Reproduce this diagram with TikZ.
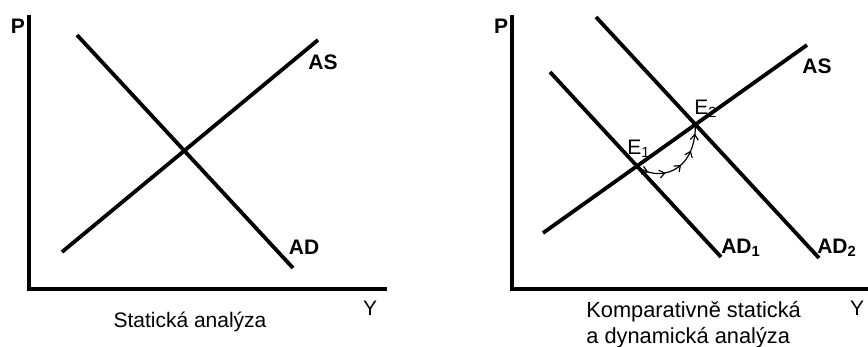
\documentclass[tikz,border=0pt]{standalone}
\usepackage{fontspec}
\setmainfont{Liberation Sans}
\usetikzlibrary{arrows.meta,intersections,decorations.markings}
\tikzset{
  axis/.style={line width=1.7pt, line join=miter},
  sched/.style={line width=1.9pt},
  lbl/.style={inner sep=0pt, font=\fontsize{10.5pt}{12.5pt}\selectfont},
  blbl/.style={inner sep=0pt, font=\bfseries\fontsize{10.5pt}{12.5pt}\selectfont},
  capt/.style={inner sep=0pt, font=\fontsize{10.9pt}{13pt}\selectfont},
  adjarr/.style={line width=0.6pt, postaction={decorate},
    decoration={markings, mark=between positions 0.14 and 0.95 step 0.19
      with {\arrow{Straight Barb[length=2.6pt, width=4pt]}}}},
}

\begin{document}
\begin{tikzpicture}[x=0.5pt, y=-0.5pt]
  \useasboundingbox (0,0) rectangle (868,347);
  % static analysis
  \coordinate (tL) at (29,15);
  \coordinate (oL) at (29,289);
  \coordinate (xL) at (387,289);
  \draw[axis] (tL) -- (oL) -- (xL);
  \coordinate (adLa) at (77,35);
  \coordinate (adLb) at (293,268);
  \coordinate (asLa) at (62,252);
  \coordinate (asLb) at (318,40);
  \draw[sched] (adLa) -- (adLb);
  \draw[sched] (asLa) -- (asLb);
  \node[blbl] (pL) at (18,26) {P};
  \node[blbl] (asL) at (323,62) {AS};
  \node[blbl] (adL) at (304,247) {AD};
  \node[lbl] (yL) at (370,308) {Y};
  \node[lbl, anchor=base] (capL) at (190,328) {Statická analýza};
  % comparative and dynamic analysis
  \coordinate (tR) at (512,15);
  \coordinate (oR) at (512,289);
  \coordinate (xR) at (868,289);
  \draw[axis] (tR) -- (oR) -- (xR);
  \coordinate (asRa) at (543,233);
  \coordinate (asRb) at (807,45);
  \coordinate (adOa) at (550,72);
  \coordinate (adOb) at (721,257);
  \coordinate (adTa) at (596,17);
  \coordinate (adTb) at (819,258);
  \draw[sched, name path=asR] (asRa) -- (asRb);
  \draw[sched, name path=adO] (adOa) -- (adOb);
  \draw[sched, name path=adT] (adTa) -- (adTb);
  \path[name intersections={of=asR and adO, by=E1}];
  \path[name intersections={of=asR and adT, by=E2}];
  \draw[adjarr] (E1) .. controls +(20,16) and +(0,50) .. (E2);
  \node[blbl] (pR) at (501,26) {P};
  \node[blbl] (asR) at (817,66) {AS};
  \node[blbl] (ad1R) at (741,248) {AD\textsubscript{1}};
  \node[blbl] (ad2R) at (837,248) {AD\textsubscript{2}};
  \node[lbl] (e1lab) at (639,149) {E\textsubscript{1}};
  \node[lbl] (e2lab) at (706,109) {E\textsubscript{2}};
  \node[lbl] (yR) at (857,308) {Y};
  \node[capt, align=left, anchor=north west] (capR) at (586,301)
    {Komparativně statická\\a dynamická analýza};
\end{tikzpicture}
\end{document}
